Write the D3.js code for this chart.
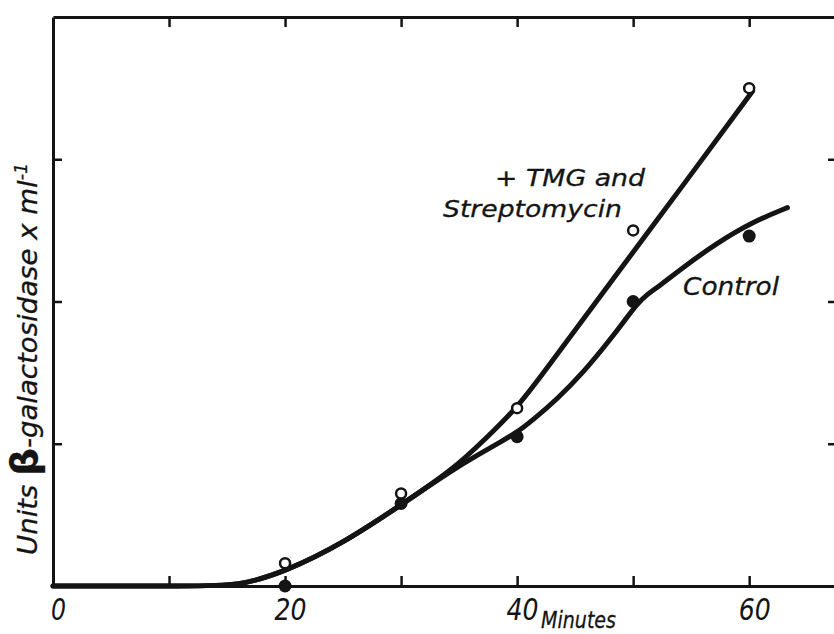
<!DOCTYPE html>
<html>
<head>
<meta charset="utf-8">
<script src="https://cdn.jsdelivr.net/npm/d3@7"></script>
<style>
body { margin: 0; background: #fff; }
text { font-family: "DejaVu Sans", sans-serif; font-style: italic; fill: #141414; stroke: #141414; stroke-width: 0.3; }
.axis .domain { stroke: #141414; stroke-width: 3; }
.axis .tick line { stroke: #141414; stroke-width: 2.5; }
</style>
</head>
<body>
<svg id="chart" width="834" height="634"></svg>
<script>
// measured points (minutes vs units, one unit = one y tick)
var minutes = [20, 30, 40, 50, 60];
var tmg_pts = [0.16, 0.65, 1.25, 2.50, 3.50];
var control_pts = [0.0, 0.58, 1.05, 2.0, 2.46];

// hand drawn curves
var tmg_curve = [[0,0],[12,0],[16,0],[20,0.10],[25,0.30],[30,0.57],[34.5,0.82],[37.2,1.03],[40,1.25],[43,1.58],[47,2.02],[54.7,2.86],[60.3,3.48]];
var control_curve = [[0,0],[12,0],[16,0],[20,0.10],[25,0.30],[30,0.57],[34.5,0.82],[36.8,0.93],[38.5,1.01],[40,1.08],[41.4,1.17],[43.4,1.31],[45.7,1.50],[48,1.73],[49.3,1.87],[50.3,1.98],[51.2,2.05],[52.1,2.10],[54.3,2.24],[57.2,2.41],[60.3,2.56],[63.3,2.66]];

var x_ticks = [0, 10, 20, 30, 40, 50, 60];
var x_labels = [0, 20, 40, 60];
var y_ticks = [1, 2, 3];

var ink = "#141414";
var svg = d3.select("#chart");

var x = d3.scaleLinear().domain([0, 68]).range([53, 842]);
var y = d3.scaleLinear().domain([0, 4]).range([586, 17]);

// frame with inward ticks
var bottom = svg.append("g").attr("class", "axis")
	.attr("transform", "translate(0," + y(0) + ")")
	.call(d3.axisBottom(x).tickValues(x_ticks).tickSizeInner(-10).tickSizeOuter(0)
		.tickFormat(function(d){ return x_labels.indexOf(d) >= 0 ? d : ""; }));
bottom.selectAll(".tick text")
	.attr("y", 34).attr("dy", 0).attr("dx", 5)
	.attr("textLength", function(d){ return d == 0 ? 15 : 32; })
	.attr("lengthAdjust", "spacingAndGlyphs")
	.style("font-size", "30px").style("font-family", "'DejaVu Sans', sans-serif").style("font-style", "italic")
	.style("stroke-width", 0);

svg.append("g").attr("class", "axis")
	.attr("transform", "translate(0," + y(4) + ")")
	.call(d3.axisTop(x).tickValues(x_ticks.slice(1)).tickSizeInner(-10).tickSizeOuter(0).tickFormat(""));

svg.append("g").attr("class", "axis")
	.attr("transform", "translate(" + x(0) + ",0)")
	.call(d3.axisLeft(y).tickValues(y_ticks).tickSizeInner(-9).tickSizeOuter(0).tickFormat(""));

svg.append("g").attr("class", "axis")
	.attr("transform", "translate(" + x(68) + ",0)")
	.call(d3.axisRight(y).tickValues(y_ticks).tickSizeInner(-14).tickSizeOuter(0).tickFormat(""));

// curves
var line = d3.line()
	.x(function(d){ return x(d[0]); })
	.y(function(d){ return y(d[1]); })
	.curve(d3.curveBasis);

svg.append("path").datum(tmg_curve).attr("d", line)
	.attr("fill", "none").attr("stroke", ink).attr("stroke-width", 5).attr("stroke-linecap", "round");
svg.append("path").datum(control_curve).attr("d", line)
	.attr("fill", "none").attr("stroke", ink).attr("stroke-width", 5).attr("stroke-linecap", "round");

// points
svg.selectAll(".ctl").data(minutes).enter().append("circle")
	.attr("class", "ctl")
	.attr("cx", function(d){ return x(d); })
	.attr("cy", function(d, i){ return y(control_pts[i]); })
	.attr("r", 6.5).attr("fill", ink);

svg.selectAll(".tmg").data(minutes).enter().append("circle")
	.attr("class", "tmg")
	.attr("cx", function(d){ return x(d); })
	.attr("cy", function(d, i){ return y(tmg_pts[i]); })
	.attr("r", 5).attr("fill", "#fff").attr("stroke", ink).attr("stroke-width", 2.5);

// labels
function label(tx, ty, size, len, str) {
	svg.append("text").attr("x", tx).attr("y", ty).style("font-size", size + "px")
		.attr("textLength", len).attr("lengthAdjust", "spacingAndGlyphs").text(str);
}
label(495, 186, 23, 150, "+ TMG and");
label(443, 217, 23, 179, "Streptomycin");
label(683, 295, 24, 96, "Control");
label(541, 628, 23, 75, "Minutes");

var ylab = svg.append("text")
	.attr("transform", "translate(37,359) rotate(-90)")
	.attr("text-anchor", "middle")
	.attr("textLength", 392).attr("lengthAdjust", "spacingAndGlyphs")
	.style("font-size", "27px");
ylab.append("tspan").text("Units ");
ylab.append("tspan").style("font-size", "38px").style("font-weight", "bold").style("font-style", "normal").text("β");
ylab.append("tspan").text("-galactosidase x ml");
ylab.append("tspan").attr("dy", -10).style("font-size", "17px").text("-1");
</script>
</body>
</html>
